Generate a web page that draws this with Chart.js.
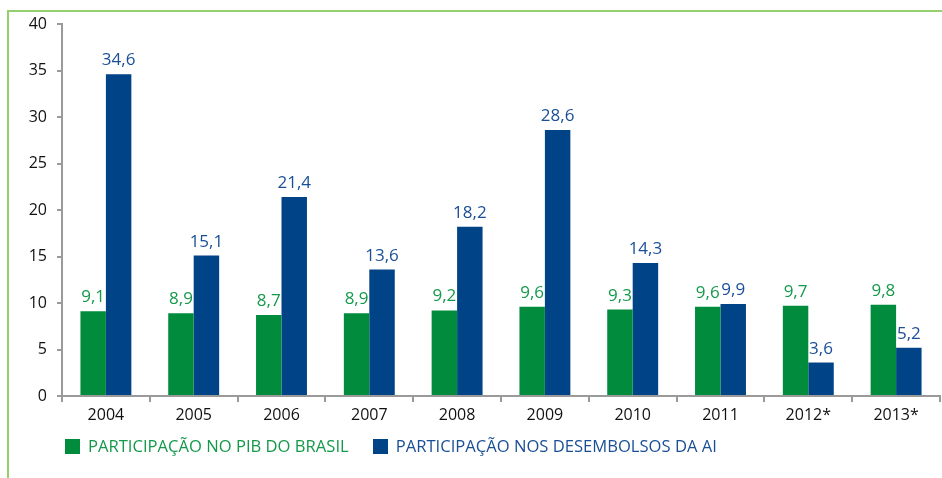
<!DOCTYPE html>
<html>
<head>
<meta charset="utf-8">
<script src="https://cdn.jsdelivr.net/npm/chart.js@4"></script>
<style>
  html, body { margin: 0; padding: 0; background: #fff; }
  #wrap { position: relative; width: 942px; height: 478px; font-family: "Open Sans", sans-serif; }
  #frame { position: absolute; left: 7px; top: 10px; right: 0; bottom: 0;
           border-top: 2px solid #93cf6d; border-left: 2px solid #93cf6d; }
  canvas { position: absolute; left: 0; top: 0; }
  #legend { position: absolute; left: 65px; top: 434px; font-size: 16.6px; white-space: nowrap; }
  #legend span.item { display: inline-block; margin-right: 24px; line-height: 20px; }
  #legend span.box { display: inline-block; width: 15px; height: 15px; vertical-align: -2px; margin-right: 8px; }
</style>
</head>
<body>
<div id="wrap">
  <div id="frame"></div>
  <canvas id="chart" width="942" height="478"></canvas>
  <div id="legend"></div>
</div>
<script>
// anos e valores (%)
const years = ['2004', '2005', '2006', '2007', '2008', '2009', '2010', '2011', '2012*', '2013*'];
const pibBrasil = [9.1, 8.9, 8.7, 8.9, 9.2, 9.6, 9.3, 9.6, 9.7, 9.8];
const desembolsosAI = [34.6, 15.1, 21.4, 13.6, 18.2, 28.6, 14.3, 9.9, 3.6, 5.2];
const yTicks = [0, 5, 10, 15, 20, 25, 30, 35, 40];

const FONT = '"Open Sans", sans-serif';
const textColors = ['#15994a', '#1a4f96'];

// rótulos em cima das barras
const barLabels = {
    id: 'barLabels',
    afterDatasetsDraw(chart) {
        const ctx = chart.ctx;
        ctx.save();
        ctx.font = '17px ' + FONT;
        ctx.textAlign = 'center';
        ctx.textBaseline = 'alphabetic';
        chart.data.datasets.forEach((ds, i) => {
            ctx.fillStyle = textColors[i];
            chart.getDatasetMeta(i).data.forEach((bar, j) => {
                ctx.fillText(ds.data[j].toFixed(1).replace('.', ','), bar.x, bar.y - 9);
            });
        });
        ctx.restore();
    }
};

const chart = new Chart(document.getElementById('chart'), {
    type: 'bar',
    data: {
        labels: years,
        datasets: [
            { label: 'PARTICIPAÇÃO NO PIB DO BRASIL', data: pibBrasil, backgroundColor: '#008b3d' },
            { label: 'PARTICIPAÇÃO NOS DESEMBOLSOS DA AI', data: desembolsosAI, backgroundColor: '#004387' }
        ]
    },
    options: {
        responsive: false,
        animation: false,
        layout: { padding: { top: 24, right: 2, left: 0, bottom: 52 } },
        datasets: { bar: { barPercentage: 1, categoryPercentage: 0.58 } },
        plugins: {
            tooltip: { enabled: false },
            legend: { display: false }
        },
        scales: {
            x: {
                offset: true,
                grid: { offset: true, drawOnChartArea: false, tickLength: 6, color: '#9a9a9a', lineWidth: 2 },
                border: { color: '#9a9a9a', width: 2 },
                ticks: { color: '#111', padding: 4, font: { size: 16, family: FONT } },
                afterFit(scale) { scale.height = 30; }
            },
            y: {
                min: 0,
                max: 40,
                afterBuildTicks(scale) { scale.ticks = yTicks.map(v => ({ value: v })); },
                grid: { drawOnChartArea: false, tickLength: 5, color: '#9a9a9a', lineWidth: 2 },
                border: { color: '#9a9a9a', width: 2 },
                ticks: { color: '#111', padding: 10, font: { size: 16, family: FONT } },
                afterFit(scale) { scale.width = 62; }
            }
        }
    },
    plugins: [barLabels]
});

// legenda em HTML
const legend = document.getElementById('legend');
chart.data.datasets.forEach((ds, i) => {
    const item = document.createElement('span');
    item.className = 'item';
    item.style.color = textColors[i];
    const box = document.createElement('span');
    box.className = 'box';
    box.style.background = ds.backgroundColor;
    item.appendChild(box);
    item.appendChild(document.createTextNode(ds.label));
    legend.appendChild(item);
});
</script>
</body>
</html>
